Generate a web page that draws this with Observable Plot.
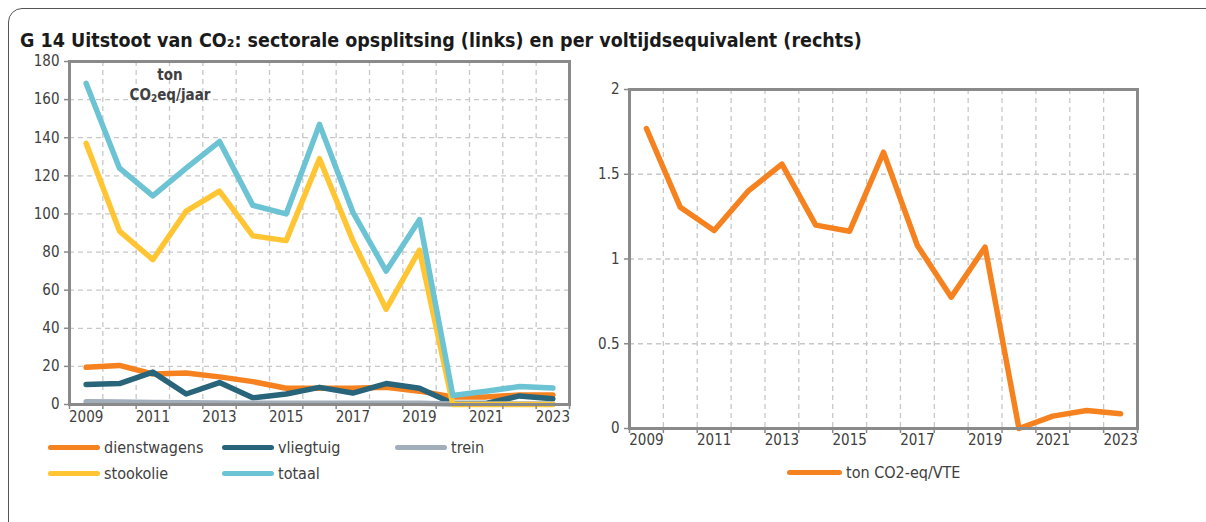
<!DOCTYPE html>
<html>
<head>
<meta charset="utf-8">
<script src="https://cdn.jsdelivr.net/npm/d3@7"></script>
<script src="https://cdn.jsdelivr.net/npm/@observablehq/plot@0.6"></script>
<style>
  html, body { margin:0; padding:0; background:#fff; width:1206px; height:522px; overflow:hidden; }
  body { position:relative; font-family:"DejaVu Sans Condensed","DejaVu Sans",sans-serif; color:#404040; }
  #box { position:absolute; left:8px; top:8px; width:1240px; height:560px; border:1.5px solid #555; border-radius:14px; box-sizing:border-box; }
  #title { position:absolute; left:20px; top:29px; font-weight:bold; font-size:19.5px; color:#1a1a1a; white-space:nowrap; }
  .abs { position:absolute; }
  .unit { position:absolute; left:120px; top:65px; width:100px; text-align:center; font-weight:bold; font-size:15px; line-height:20px; color:#404040; }
  .unit sub { font-size:10px; vertical-align:-2px; }
  .leg { position:absolute; font-size:16px; color:#404040; display:flex; align-items:center; white-space:nowrap; }
  .leg .sw { display:inline-block; width:52px; height:5px; border-radius:3px; margin-right:4px; }
</style>
</head>
<body>
<div id="box"></div>
<div id="title">G 14 Uitstoot van CO₂: sectorale opsplitsing (links) en per voltijdsequivalent (rechts)</div>
<div id="left" class="abs" style="left:0px; top:50px;"></div>
<div id="right" class="abs" style="left:580px; top:70px;"></div>
<div class="unit">ton<br>CO<sub>2</sub>eq/jaar</div>
<div id="legends"></div>
<script>
const years = [2009, 2010, 2011, 2012, 2013, 2014, 2015, 2016, 2017, 2018, 2019, 2020, 2021, 2022, 2023];
const labelYears = [2009, 2011, 2013, 2015, 2017, 2019, 2021, 2023];
const dienstwagens = [19.5, 20.5, 16, 16.5, 14.5, 12, 8.5, 8.5, 8.5, 9, 7, 4, 4, 5, 5];
const vliegtuig = [10.5, 11, 17, 5.5, 11.5, 3.5, 5.5, 9, 6, 11, 8.5, 0.5, 0.5, 4.5, 3];
const trein = [1.5, 1.3, 1.1, 0.9, 0.8, 0.7, 0.6, 0.6, 0.6, 0.6, 0.6, 0.3, 0.2, 0.2, 0.2];
const stookolie = [137, 91, 76, 101.5, 112, 88.5, 86, 129, 86, 50, 81, 0, 0, 0, 0];
const totaal = [168.5, 124, 109.5, 124, 138, 104.5, 100, 147, 101, 70, 97, 4.7, 7, 9.4, 8.6];
const perVTE = [1.77, 1.305, 1.168, 1.40, 1.56, 1.20, 1.164, 1.63, 1.08, 0.775, 1.07, 0, 0.073, 0.106, 0.087];

const leftNames = ["dienstwagens", "vliegtuig", "trein", "stookolie", "totaal"];
const leftSeries = [dienstwagens, vliegtuig, trein, stookolie, totaal];
const leftColors = ["#F5821F", "#28647A", "#A2ADBA", "#FFC533", "#6BC3D3"];
const rightName = "ton CO2-eq/VTE";
const rightColor = "#F5821F";
const leftYTicks = [0, 20, 40, 60, 80, 100, 120, 140, 160, 180];
const rightYTicks = [0, 0.5, 1, 1.5, 2];

const bounds = years.map(y => y - 0.5).concat([years[years.length - 1] + 0.5]);
const FONT = "DejaVu Sans Condensed, DejaVu Sans, sans-serif";
const grid = {strokeDasharray: "5,4", stroke: "#c8c8c8", strokeOpacity: 1, strokeWidth: 1.3};

function rows(arr) { return years.map((y, i) => ({year: y, value: arr[i]})); }

function chart({width, height, margins, yDomain, yTicks, series, colors, xPad}) {
  const marks = [
    Plot.gridY(yTicks, grid),
    Plot.gridX(bounds, grid),
  ];
  series.forEach((s, i) => {
    marks.push(Plot.line(rows(s), {x: "year", y: "value", stroke: colors[i], strokeWidth: 5.5, strokeLinecap: "round", strokeLinejoin: "round"}));
  });
  marks.push(
    Plot.frame({stroke: "#8a8a8a", strokeWidth: 3}),
    Plot.axisY({ticks: yTicks, label: null, tickSize: 5, tickPadding: 5, stroke: "#8a8a8a", strokeWidth: 1.5, fill: "#404040", fontSize: 15, tickFormat: d => String(d)}),
    Plot.axisX({ticks: bounds, label: null, tickSize: 5, tickFormat: () => "", stroke: "#8a8a8a", strokeWidth: 1.5}),
    Plot.axisX({ticks: labelYears, label: null, tickSize: 0, tickPadding: xPad, fill: "#404040", fontSize: 15, tickFormat: d => String(d)})
  );
  return Plot.plot({
    width, height, ...margins,
    style: {fontFamily: FONT, color: "#404040", background: "transparent", overflow: "visible"},
    x: {type: "linear", domain: [years[0] - 0.5, years[years.length - 1] + 0.5], label: null},
    y: {domain: yDomain, label: null},
    marks
  });
}

document.getElementById("left").append(chart({
  width: 590, height: 385,
  margins: {marginLeft: 69, marginRight: 21, marginTop: 11, marginBottom: 31},
  yDomain: [0, 180], yTicks: leftYTicks,
  series: leftSeries, colors: leftColors, xPad: 7
}));

document.getElementById("right").append(chart({
  width: 600, height: 390,
  margins: {marginLeft: 49, marginRight: 43, marginTop: 19, marginBottom: 32},
  yDomain: [0, 2], yTicks: rightYTicks,
  series: [perVTE], colors: [rightColor], xPad: 6
}));

// legends
const legPos = [[48, 438], [222, 438], [395, 438], [48, 464], [222, 464]];
const legDiv = document.getElementById("legends");
leftNames.forEach((n, i) => {
  const d = document.createElement("div");
  d.className = "leg";
  d.style.left = legPos[i][0] + "px";
  d.style.top = legPos[i][1] + "px";
  d.innerHTML = `<span class="sw" style="background:${leftColors[i]}"></span>${n}`;
  legDiv.append(d);
});
const rd = document.createElement("div");
rd.className = "leg";
rd.style.left = "787px"; rd.style.top = "463px";
rd.innerHTML = `<span class="sw" style="background:${rightColor};width:55px"></span>${rightName}`;
legDiv.append(rd);
</script>
</body>
</html>
